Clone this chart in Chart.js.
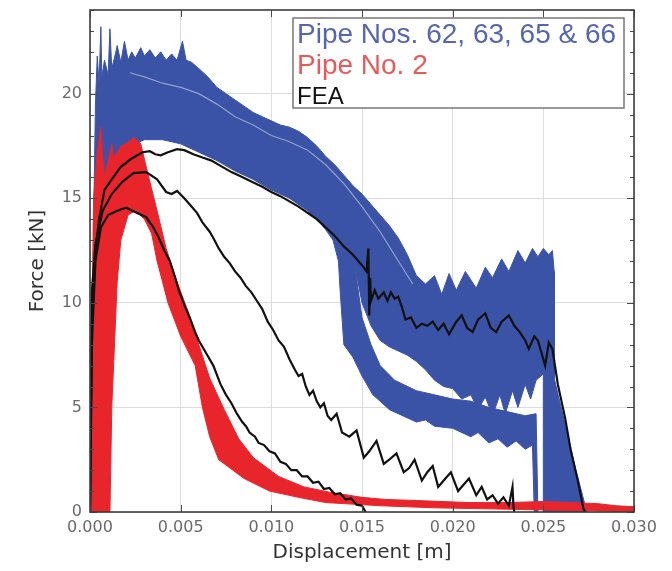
<!DOCTYPE html>
<html>
<head>
<meta charset="utf-8">
<title>Force vs displacement</title>
<script src="https://cdn.jsdelivr.net/npm/chart.js@4/dist/chart.umd.min.js"></script>
<style>
  html, body { margin: 0; padding: 0; background: #fff; }
  canvas { display: block; }
</style>
</head>
<body>
<canvas id="chart" width="672" height="571"></canvas>
<script>
// Force-displacement curves: four test pipes (blue band), pipe No. 2 (red band)
// and three FEA runs (black).
// Bands are outlines [x in m, force in kN], traced clockwise and filled as shapes.

const xTicks = [0, 0.005, 0.010, 0.015, 0.020, 0.025, 0.030];
const yLabelled = [0, 5, 10, 15, 20];
const legendLabels = ["Pipe Nos. 62, 63, 65 & 66", "Pipe No. 2", "FEA"];

// blue band: upper edge, right drop, then lower edges back to the start
const blueBand = [
  [0.0001, 0], [0.0002, 14], [0.0003, 19.5], [0.0004, 21.8], [0.0005, 20.5], [0.0006, 23.2],
  [0.00065, 20.8], [0.0008, 21.6], [0.001, 20.9], [0.0011, 23.1], [0.0012, 21.2], [0.0014, 21.9],
  [0.0015, 22.3], [0.0017, 21.5], [0.0019, 22.5], [0.0021, 21.6], [0.0023, 22.0], [0.0025, 21.7],
  [0.0028, 22.2], [0.003, 21.8], [0.0033, 22.1], [0.0036, 21.7], [0.0039, 22.0], [0.0042, 21.6],
  [0.0045, 21.9], [0.0048, 21.6], [0.0051, 22.5], [0.0053, 21.6], [0.0056, 21.5], [0.006, 21.2],
  [0.0065, 20.8], [0.007, 20.3], [0.0075, 20.0], [0.008, 19.7], [0.0085, 19.4], [0.009, 19.1],
  [0.0095, 18.9], [0.010, 18.7], [0.0105, 18.5], [0.011, 18.4], [0.0115, 18.2], [0.012, 17.9],
  [0.0125, 17.5], [0.013, 17.0], [0.0135, 16.6], [0.014, 16.1], [0.0145, 15.6], [0.015, 15.2],
  [0.0155, 14.7], [0.016, 14.2], [0.0165, 13.7], [0.017, 13.1], [0.0175, 12.3], [0.018, 11.3],
  [0.0185, 10.9], [0.019, 11.3], [0.0194, 10.4], [0.0198, 11.4], [0.0202, 10.6], [0.0207, 11.5],
  [0.0213, 10.7], [0.0218, 11.7], [0.0222, 11.2], [0.0227, 12.1], [0.0231, 11.5], [0.0236, 12.5],
  [0.024, 11.9], [0.0244, 12.6], [0.0247, 12.2], [0.025, 12.6], [0.0253, 12.3], [0.0255, 12.5],
  [0.0256, 11.5], [0.0256, 6.4], [0.0262, 4.2], [0.0268, 2.0], [0.0274, 0],
  [0.0250, 0], [0.0250, 6.6], [0.0246, 6.3], [0.0243, 5.4], [0.0240, 6.1], [0.0236, 5.0],
  [0.0233, 5.8], [0.0229, 4.7], [0.0226, 5.6], [0.0222, 4.6], [0.0218, 5.5], [0.0214, 4.9],
  [0.021, 5.6], [0.0205, 5.4], [0.020, 5.9], [0.0195, 6.0], [0.019, 6.3], [0.0185, 6.8],
  [0.018, 7.2], [0.0175, 7.5], [0.017, 7.7], [0.0165, 7.9], [0.016, 8.2], [0.0155, 8.9],
  [0.0150, 10.0], [0.0146, 11.8],
  [0.0150, 9.3], [0.0155, 8.0], [0.016, 7.0], [0.0168, 6.3], [0.018, 5.8], [0.019, 5.6],
  [0.020, 5.4], [0.021, 5.3], [0.022, 5.0], [0.023, 4.8], [0.024, 4.6], [0.0246, 4.7],
  [0.0247, 0], [0.0245, 0], [0.0244, 3.2], [0.0240, 3.0], [0.0235, 3.4], [0.023, 3.1],
  [0.0225, 3.5], [0.022, 3.3], [0.0214, 3.8], [0.021, 3.6], [0.020, 4.0], [0.019, 4.1],
  [0.0185, 4.4], [0.018, 4.3], [0.017, 4.7], [0.0165, 4.9], [0.016, 5.3], [0.0156, 5.6],
  [0.0150, 6.5], [0.0145, 7.4], [0.0140, 8.0], [0.0138, 10.5], [0.0137, 12.0],
  [0.0134, 13.0], [0.013, 13.5], [0.0125, 14.0], [0.012, 14.4], [0.011, 15.0], [0.010, 15.4],
  [0.009, 15.9], [0.008, 16.3], [0.007, 16.8], [0.006, 17.2], [0.005, 17.6], [0.004, 17.8],
  [0.003, 17.8], [0.0025, 17.6], [0.002, 17.4], [0.0015, 16.5], [0.001, 16.0], [0.0006, 15],
  [0.0003, 8], [0.0002, 0]
];

// pale gap between the upper pair of blue curves and the rest
const blueGap = [
  [0.0022, 21.0], [0.003, 20.8], [0.004, 20.5], [0.005, 20.3], [0.006, 20.0], [0.007, 19.5],
  [0.008, 18.9], [0.009, 18.5], [0.010, 18.0], [0.011, 17.7], [0.012, 17.3], [0.013, 16.6],
  [0.014, 15.7], [0.015, 14.6], [0.016, 13.4], [0.017, 12.0], [0.0178, 10.9]
];

// red band: outer edge up and over the peak, tail, then inner edge back
const redBand = [
  [0.0001, 0], [0.0001, 9], [0.0002, 15], [0.0004, 17.2], [0.0006, 18.4], [0.0007, 17.0],
  [0.0008, 16.0], [0.001, 16.8], [0.0012, 17.6], [0.0013, 16.9], [0.0015, 17.2], [0.0017, 17.5],
  [0.002, 17.6], [0.0024, 17.9], [0.0028, 17.6], [0.0031, 16.5], [0.0037, 14.4], [0.0042, 12.6],
  [0.0048, 11.0], [0.0054, 9.6], [0.006, 8.0], [0.0066, 6.4], [0.0074, 4.9], [0.0082, 3.5],
  [0.009, 2.6], [0.0104, 1.7], [0.0118, 1.2], [0.0132, 0.95], [0.015, 0.7], [0.0163, 0.6],
  [0.018, 0.55], [0.0209, 0.45], [0.023, 0.45], [0.025, 0.5], [0.0265, 0.45], [0.028, 0.4],
  [0.029, 0.3], [0.030, 0.25], [0.030, 0],
  [0.028, 0.05], [0.025, 0.1], [0.022, 0.15], [0.019, 0.2], [0.016, 0.3], [0.013, 0.45],
  [0.0115, 0.7], [0.0099, 1.0], [0.0085, 1.6], [0.0071, 2.5], [0.0066, 3.6], [0.0062, 5.0],
  [0.0058, 7.0], [0.0050, 8.4], [0.0043, 10.0], [0.0037, 12.0], [0.0034, 13.3], [0.003, 14.0],
  [0.0025, 14.4], [0.0021, 14.2], [0.0017, 13.0], [0.0015, 11.0], [0.0014, 9.0], [0.0012, 5.0],
  [0.0011, 0]
];

const feaTop = [
  [0, 0], [0.0001, 8.8], [0.0003, 12.5], [0.0005, 14.0], [0.0008, 15.4], [0.0012, 15.9],
  [0.0017, 16.5], [0.0023, 16.9], [0.0029, 17.2], [0.0033, 17.25], [0.0036, 17.1], [0.0039, 17.05],
  [0.0043, 17.2], [0.0048, 17.35], [0.0052, 17.3], [0.0057, 17.1], [0.0062, 16.95], [0.0067, 16.8],
  [0.0072, 16.55], [0.0078, 16.25], [0.0083, 16.05], [0.0089, 15.8], [0.0095, 15.55], [0.010, 15.3],
  [0.0105, 15.1], [0.011, 14.85], [0.0115, 14.6], [0.012, 14.3], [0.0125, 14.0], [0.013, 13.6],
  [0.0135, 13.2], [0.014, 12.7], [0.0145, 12.3], [0.015, 11.8], [0.01525, 11.5], [0.01535, 12.6],
  [0.0154, 9.4], [0.01545, 11.2], [0.0155, 10.1], [0.0157, 10.6], [0.0159, 10.2], [0.0162, 10.5],
  [0.0164, 10.1], [0.0166, 10.5], [0.0168, 10.2], [0.017, 10.3], [0.0172, 9.8], [0.0174, 9.2],
  [0.0177, 9.3], [0.018, 8.8], [0.0183, 9.0], [0.0186, 8.9], [0.0189, 9.1], [0.0192, 8.7],
  [0.0195, 9.0], [0.0198, 8.5], [0.0202, 9.1], [0.0205, 9.4], [0.0208, 8.8], [0.0211, 8.6],
  [0.0214, 9.2], [0.0218, 9.5], [0.0221, 8.8], [0.0224, 8.6], [0.0227, 9.1], [0.0231, 9.4],
  [0.0234, 8.9], [0.0237, 8.6], [0.024, 8.2], [0.0242, 7.8], [0.0245, 8.4], [0.0247, 8.2],
  [0.0249, 7.6], [0.0251, 7.0], [0.0253, 8.1], [0.0255, 7.8], [0.0258, 6.1], [0.0262, 4.5],
  [0.0265, 3.0], [0.0269, 1.5], [0.0272, 0.2], [0.0273, 0]
];

const feaMid = [
  [0, 0], [0.0001, 10.5], [0.0003, 12.8], [0.0007, 14.4], [0.0012, 15.2], [0.0018, 15.8],
  [0.0024, 16.2], [0.0031, 16.25], [0.0037, 15.9], [0.0042, 15.3], [0.0045, 15.2], [0.0048, 15.35],
  [0.0052, 15.0], [0.0055, 14.7], [0.0059, 14.3], [0.0062, 13.85], [0.0066, 13.4], [0.0068, 13.1],
  [0.0071, 12.6], [0.0074, 12.2], [0.0077, 11.9], [0.008, 11.5], [0.0083, 11.2], [0.0086, 10.8],
  [0.0089, 10.5], [0.0092, 10.1], [0.0095, 9.7], [0.0098, 9.1], [0.0101, 8.7], [0.0104, 8.2],
  [0.0107, 7.9], [0.011, 7.3], [0.0113, 6.8], [0.0115, 6.5], [0.0117, 6.6], [0.0119, 6.0],
  [0.0121, 5.6], [0.0123, 5.8], [0.0125, 5.3], [0.0127, 5.0], [0.0129, 5.2], [0.0131, 4.6],
  [0.0133, 4.4], [0.0136, 4.7], [0.0139, 3.8], [0.0143, 3.6], [0.0147, 3.9], [0.0151, 2.6],
  [0.0154, 2.9], [0.0158, 3.4], [0.0162, 2.3], [0.0165, 2.5], [0.0169, 2.8], [0.0173, 1.9],
  [0.0176, 2.1], [0.0179, 2.5], [0.0183, 1.5], [0.0186, 1.9], [0.0189, 2.2], [0.0192, 1.2],
  [0.0196, 1.6], [0.0199, 1.9], [0.0203, 1.0], [0.0206, 1.3], [0.0209, 1.6], [0.0213, 0.8],
  [0.0216, 1.2], [0.0219, 0.6], [0.0222, 0.8], [0.0225, 0.4], [0.0228, 0.7], [0.0231, 0.3],
  [0.0233, 1.2], [0.02335, 0.3], [0.0234, 0]
];

const feaLow = [
  [0, 0], [0.0001, 8], [0.0003, 12], [0.0006, 13.6], [0.001, 14.2], [0.0015, 14.4],
  [0.002, 14.55], [0.0026, 14.3], [0.0031, 14.1], [0.0035, 13.6], [0.0038, 13.1], [0.0041, 12.5],
  [0.0044, 12.0], [0.0047, 11.2], [0.0049, 10.6], [0.0052, 9.9], [0.0055, 9.3], [0.0058, 8.6],
  [0.006, 8.2], [0.0064, 7.6], [0.0068, 7.0], [0.0072, 6.1], [0.0075, 5.6], [0.0078, 5.2],
  [0.0081, 4.7], [0.0084, 4.3], [0.0086, 4.1], [0.0088, 3.8], [0.0091, 3.6], [0.0093, 3.3],
  [0.0096, 3.2], [0.0099, 2.9], [0.0102, 2.8], [0.0105, 2.4], [0.0108, 2.3], [0.0111, 2.0],
  [0.0114, 2.0], [0.0117, 1.7], [0.012, 1.7], [0.0123, 1.4], [0.0126, 1.45], [0.0129, 1.1],
  [0.0132, 1.15], [0.0135, 0.85], [0.0138, 0.9], [0.0141, 0.6], [0.0144, 0.65], [0.0147, 0.35],
  [0.015, 0.3], [0.0152, 0]
];

const BLUE = "#3b53a6";
const RED = "#e8252b";
const BLACK = "#111111";

const pts = (arr) => arr.map(([x, y]) => ({ x, y }));

function band(data, color, order) {
  return {
    data: pts(data), order,
    borderColor: color, backgroundColor: color,
    borderWidth: 1, pointRadius: 0, fill: "shape"
  };
}

function curve(data, color, width, order) {
  return {
    data: pts(data), order,
    borderColor: color, borderWidth: width,
    pointRadius: 0, fill: false
  };
}

/* --------------------- frame, inward ticks, legend box --------------------- */

const frameAndLegend = {
  id: "frameAndLegend",
  afterDraw(chart) {
    const { ctx, chartArea: a, scales: { x, y } } = chart;
    ctx.save();
    ctx.strokeStyle = "#4a4a4a";
    ctx.lineWidth = 1;
    const seg = (x1, y1, x2, y2) => {
      ctx.beginPath(); ctx.moveTo(x1, y1); ctx.lineTo(x2, y2); ctx.stroke();
    };
    y.ticks.forEach((t) => {
      const py = Math.round(y.getPixelForValue(t.value)) + 0.5;
      const len = t.value % 5 === 0 ? 7 : 4;
      seg(a.left, py, a.left + len, py);
      seg(a.right, py, a.right - len, py);
    });
    x.ticks.forEach((t) => {
      const px = Math.round(x.getPixelForValue(t.value)) + 0.5;
      seg(px, a.bottom, px, a.bottom - 7);
      seg(px, a.top, px, a.top + 7);
    });
    ctx.lineWidth = 1.6;
    ctx.strokeStyle = "#3c3c3c";
    ctx.strokeRect(a.left, a.top, a.right - a.left, a.bottom - a.top);

    // legend: coloured text only, no swatches
    const box = { left: 293, top: 18, width: 331, height: 90 };
    ctx.fillStyle = "#fff";
    ctx.fillRect(box.left, box.top, box.width, box.height);
    ctx.lineWidth = 1.5;
    ctx.strokeStyle = "#777";
    ctx.strokeRect(box.left, box.top, box.width, box.height);
    const colors = ["#5566b0", "#e85a5a", BLACK];
    const sizes = [28, 28, 24];
    ctx.textBaseline = "alphabetic";
    ctx.textAlign = "left";
    legendLabels.forEach((label, i) => {
      ctx.font = sizes[i] + "px 'Liberation Sans', Arial, sans-serif";
      ctx.fillStyle = colors[i];
      ctx.fillText(label, box.left + 4, box.top + 25 + i * 30.5);
    });
    ctx.restore();
  }
};

new Chart(document.getElementById("chart"), {
  type: "line",
  data: {
    datasets: [
      curve(feaTop, BLACK, 2.2, 0),
      curve(feaMid, BLACK, 2.2, 1),
      curve(feaLow, BLACK, 2.2, 2),
      band(redBand, RED, 3),
      curve(blueGap, "rgba(255,255,255,0.45)", 1.2, 4),
      band(blueBand, BLUE, 5)
    ]
  },
  options: {
    responsive: false,
    animation: false,
    devicePixelRatio: 1,
    layout: { padding: { top: 10, right: 38, left: 0, bottom: 0 } },
    plugins: { legend: { display: false }, tooltip: { enabled: false } },
    scales: {
      x: {
        type: "linear",
        min: 0,
        max: 0.03,
        afterBuildTicks: (s) => { s.ticks = xTicks.map((v) => ({ value: v })); },
        afterFit: (s) => { s.height = 59; s.paddingLeft = 0; s.paddingRight = 0; },
        grid: { color: "#dcdcdc", drawTicks: false },
        border: { display: false },
        ticks: {
          padding: 6,
          color: "#6a6a6a",
          font: { family: "'DejaVu Sans', sans-serif", size: 16 },
          maxRotation: 0,
          callback: (v) => v.toFixed(3)
        },
        title: {
          display: true,
          text: "Displacement [m]",
          color: "#333",
          padding: { bottom: 6, top: 0 },
          font: { family: "'DejaVu Sans', sans-serif", size: 20 }
        }
      },
      y: {
        min: 0,
        max: 24,
        afterFit: (s) => { s.width = 90; s.paddingTop = 0; s.paddingBottom = 0; },
        grid: {
          color: (c) => (c.tick && c.tick.value % 5 === 0 ? "#dcdcdc" : "rgba(0,0,0,0)"),
          drawTicks: false
        },
        border: { display: false },
        ticks: {
          stepSize: 1,
          autoSkip: false,
          padding: 8,
          color: "#6a6a6a",
          font: { family: "'DejaVu Sans', sans-serif", size: 16 },
          callback: (v) => (yLabelled.includes(v) ? String(v) : "")
        },
        title: {
          display: true,
          text: "Force [kN]",
          color: "#333",
          padding: { top: 26, bottom: 0 },
          font: { family: "'DejaVu Sans', sans-serif", size: 20 }
        }
      }
    }
  },
  plugins: [frameAndLegend]
});
</script>
</body>
</html>
